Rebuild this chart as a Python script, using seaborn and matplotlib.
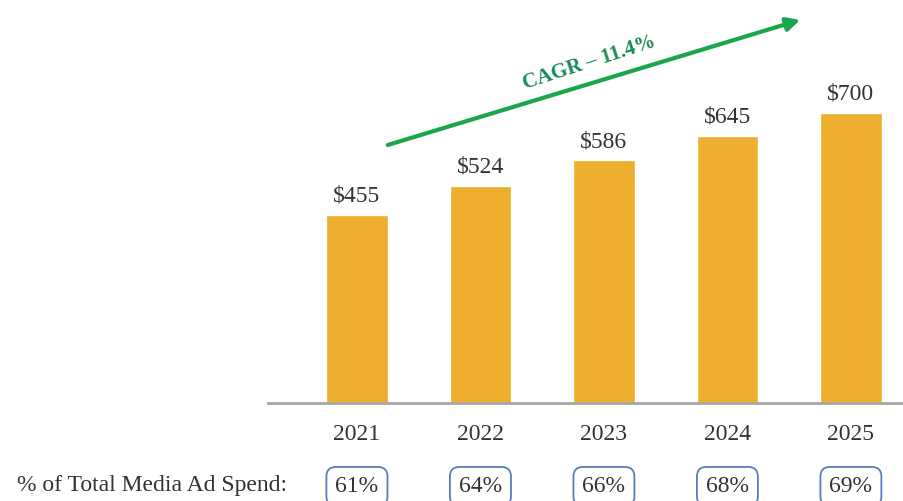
import numpy as np
import pandas as pd
import seaborn as sns
import matplotlib.pyplot as plt

years = ['2021', '2022', '2023', '2024', '2025']
spend = [455, 524, 586, 645, 700]
share_pct = [61, 64, 66, 68, 69]
cagr_label = 'CAGR – 11.4%'
share_label = '% of Total Media Ad Spend:'

bar_color = '#ecae2c'
green = '#1aa64a'
text_color = '#333333'

sns.set_style('white')
plt.rcParams['font.family'] = ['Liberation Serif', 'DejaVu Serif']

df = pd.DataFrame({'year': years, 'spend': spend})

fig = plt.figure(figsize=(9.04, 5.01), dpi=100)
ax = fig.add_axes([0.2965, 0.1956, 0.7035, 0.8044])

sns.barplot(data=df, x='year', y='spend', color=bar_color, width=0.5,
            saturation=1, ax=ax)

ax.set_xlim(-0.72, 4.43)
ax.set_ylim(0, 973)
ax.set_xlabel('')
ax.set_ylabel('')
ax.set_yticks([])
ax.tick_params(axis='x', length=0, pad=15, labelsize=17, labelcolor=text_color)
for s in ['top', 'right', 'left']:
    ax.spines[s].set_visible(False)
ax.spines['bottom'].set_color('#a6a6a6')
ax.spines['bottom'].set_linewidth(2)

# value labels
for i, v in enumerate(spend):
    ax.text(i, v + 20, '${}'.format(v), ha='center', va='bottom',
            fontsize=17, color=text_color)

# percent-of-total boxes under the years
xt = ax.get_xaxis_transform()
for i, p in enumerate(share_pct):
    ax.text(i, -0.207, '{}%'.format(p), transform=xt, ha='center', va='center',
            fontsize=17, color=text_color,
            bbox=dict(boxstyle='round,pad=0.38,rounding_size=0.4',
                      fc='white', ec='#5b7cc4', lw=1.3))
fig.text(287 / 904, 1 - 486 / 501, share_label, ha='right', va='center',
         fontsize=17, color=text_color)

# CAGR arrow
ax.annotate('', xy=(3.59, 925), xytext=(0.25, 623),
            arrowprops=dict(arrowstyle='-|>,head_length=0.8,head_width=0.4',
                            color=green, lw=3, shrinkA=0, shrinkB=0))
ax.text(1.88, 822, cagr_label, rotation=18, ha='center', va='center',
        fontsize=15, fontweight='bold', color='#1a8a55',
        rotation_mode='anchor')

fig.savefig('out.png', dpi=100)
